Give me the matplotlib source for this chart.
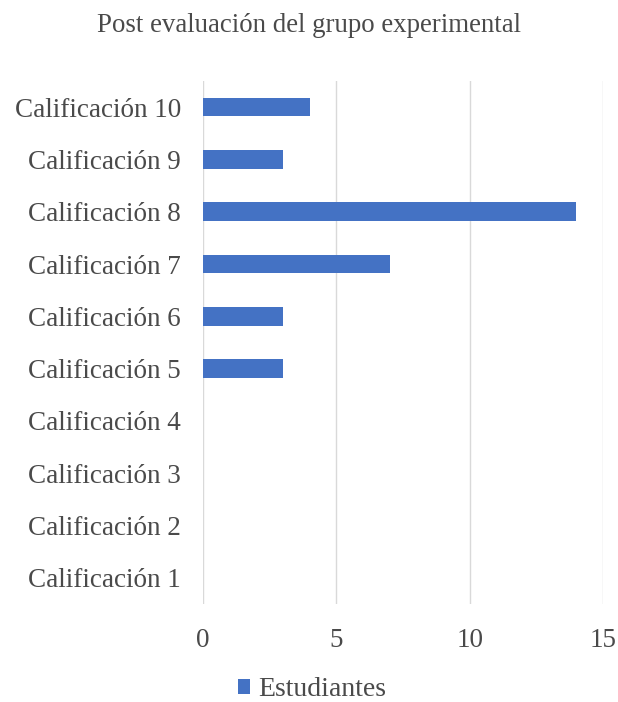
import matplotlib
matplotlib.use('Agg')

import matplotlib.pyplot as plt

categories = ["Calificación 1", "Calificación 2", "Calificación 3", "Calificación 4",
              "Calificación 5", "Calificación 6", "Calificación 7", "Calificación 8",
              "Calificación 9", "Calificación 10"]
estudiantes = [0, 0, 0, 0, 3, 3, 7, 14, 3, 4]
x_ticks = [0, 5, 10, 15]

BAR_COLOR = "#4472C4"
TEXT_COLOR = "#4a4a4a"
GRID_COLOR = "#D9D9D9"

plt.rcParams['font.family'] = ['Liberation Serif', 'DejaVu Serif']

fig = plt.figure(figsize=(6.18, 7.02), dpi=100)
ax = fig.add_axes([0.3285, 0.1396, 0.6472, 0.745])

ypos = list(range(len(categories)))
ax.barh(ypos, estudiantes, height=0.355, color=BAR_COLOR, label="Estudiantes", zorder=3)

ax.set_xlim(0, 15)
ax.set_ylim(-0.5, len(categories) - 0.5)
ax.set_xticks(x_ticks)
ax.set_yticks(ypos)
ax.set_yticklabels(categories)

ax.grid(axis='x', color=GRID_COLOR, linewidth=1, zorder=0)
for s in ax.spines.values():
    s.set_visible(False)
ax.tick_params(axis='both', length=0, colors=TEXT_COLOR, labelsize=19.5)
ax.tick_params(axis='x', pad=17)
ax.tick_params(axis='y', pad=16)

fig.text(0.5, 0.963, "Post evaluación del grupo experimental", ha='center', va='center',
         fontsize=19.4, color=TEXT_COLOR)

# legend sits under the tick numbers, kept inside the figure edge
fig.legend(loc='lower center', bbox_to_anchor=(0.505, 0.0), frameon=False, fontsize=20,
           handlelength=0.45, handleheight=0.45, handletextpad=0.3, labelcolor=TEXT_COLOR,
           borderaxespad=0.0, borderpad=0.0)

fig.savefig("out.png", dpi=100, facecolor="white")
